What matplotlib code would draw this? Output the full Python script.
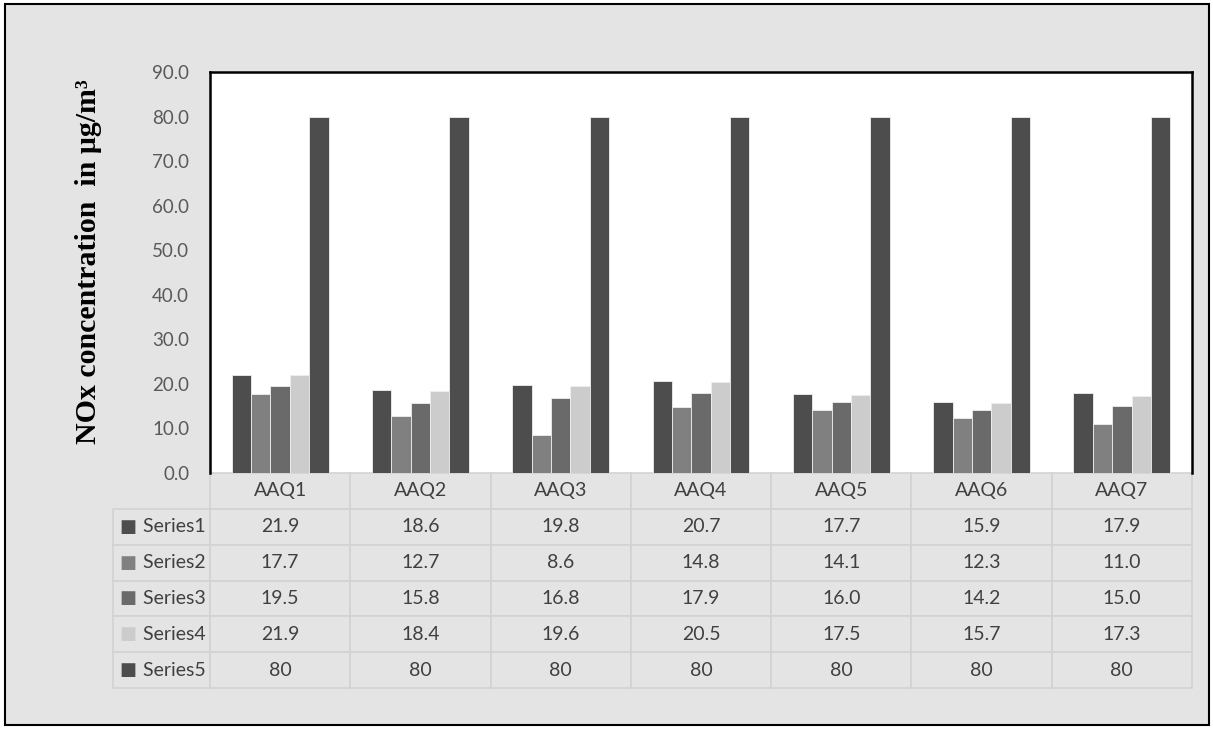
import numpy as np
import matplotlib.pyplot as plt
from matplotlib.patches import Rectangle

# data
stations = ['AAQ1', 'AAQ2', 'AAQ3', 'AAQ4', 'AAQ5', 'AAQ6', 'AAQ7']
series_names = ['Series1', 'Series2', 'Series3', 'Series4', 'Series5']
series1 = [21.9, 18.6, 19.8, 20.7, 17.7, 15.9, 17.9]
series2 = [17.7, 12.7, 8.6, 14.8, 14.1, 12.3, 11.0]
series3 = [19.5, 15.8, 16.8, 17.9, 16.0, 14.2, 15.0]
series4 = [21.9, 18.4, 19.6, 20.5, 17.5, 15.7, 17.3]
series5 = [80, 80, 80, 80, 80, 80, 80]
all_series = [series1, series2, series3, series4, series5]
colors = ['#4d4d4d', '#808080', '#6a6a6a', '#cccccc', '#4d4d4d']

bg = '#e4e4e4'
txt = '#404040'
tick_font = 'Lato'

fig = plt.figure(figsize=(12.13, 7.29), dpi=100)
fig.patch.set_facecolor('white')
fig.patches.append(Rectangle((0.004, 0.005), 0.993, 0.99, transform=fig.transFigure,
                             facecolor=bg, edgecolor='black', linewidth=1.5, zorder=-10))

W, H = 1213, 729
ax = fig.add_axes([210 / W, 1 - 473 / H, 982 / W, 401 / H])
ax.set_facecolor('white')

x = np.arange(len(stations))
bw = 0.138
offsets = (np.arange(len(all_series)) - 2) * bw
for vals, off, c in zip(all_series, offsets, colors):
    ax.bar(x + off, vals, width=bw, color=c, edgecolor='#eeeeee', linewidth=0.6, zorder=3)

ax.set_xlim(-0.5, len(stations) - 0.5)
ax.set_ylim(0, 90)
ax.set_yticks(np.arange(0, 91, 10))
ax.set_yticklabels([f'{v:.1f}' for v in np.arange(0, 91, 10)],
                   fontsize=13.5, color='#595959', family=tick_font)
ax.tick_params(axis='y', length=0, pad=15)
ax.set_xticks([])
for side in ['top', 'right', 'left']:
    ax.spines[side].set_linewidth(1.8)
    ax.spines[side].set_color('black')
ax.spines['bottom'].set_visible(False)

ax.set_ylabel('NOx concentration  in μg/m³', fontsize=21.5, fontweight='bold',
              family='Liberation Serif', color='black')
ax.yaxis.set_label_coords(-0.11, 0.526)

# data table under the plot (bbox covers header + data cells, row labels sit left of it)
cell_text = [[f'{v:.1f}' if s is not series5 else f'{v:g}' for v in s] for s in all_series]
row_lab_w = 97 / 982
tab_h = 215 / 401
tab = ax.table(cellText=cell_text, rowLabels=['    ' + n for n in series_names],
               colLabels=stations, colWidths=[1 / 7] * 7,
               rowLoc='left', cellLoc='center', colLoc='center',
               bbox=[0, -tab_h, 1, tab_h])
tab._autoColumns = [c for c in tab._autoColumns if c != -1]
tab.auto_set_font_size(False)
for (r, c), cell in tab.get_celld().items():
    if c == -1:
        cell.set_width(row_lab_w)
    cell.set_facecolor(bg)
    cell.set_edgecolor('#d2d2d2')
    cell.set_linewidth(1.2)
    cell.get_text().set_fontsize(14)
    cell.get_text().set_color(txt)
    cell.get_text().set_fontfamily(tick_font)

# legend keys in the row label cells
n_rows = len(series_names) + 1
for i, c in enumerate(colors):
    yc = -tab_h + tab_h * (n_rows - 1.5 - i) / n_rows
    ax.text(-0.0927, yc, '■', color=c, fontsize=13, va='center', ha='left',
            transform=ax.transAxes, family='DejaVu Sans')

fig.savefig('out.png', dpi=100, facecolor=fig.get_facecolor())
